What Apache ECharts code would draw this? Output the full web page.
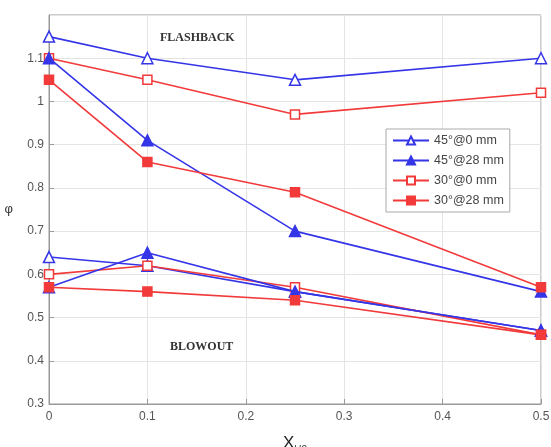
<!DOCTYPE html>
<html>
<head>
<meta charset="utf-8">
<script src="https://cdn.jsdelivr.net/npm/echarts@6/dist/echarts.min.js"></script>
<style>html,body{margin:0;padding:0;background:#fff}#main{width:551px;height:447px}</style>
</head>
<body>
<div id="main"></div>
<script>
// X_H2 positions and measured phi values (upper = flashback, lower = blowout)
var xH2 = [0, 0.1, 0.25, 0.5];
var names = ['45°@0 mm', '45°@28 mm', '30°@0 mm', '30°@28 mm'];
var upper45_0 = [1.15, 1.10, 1.05, 1.10];
var lower45_0 = [0.64, 0.62, 0.56, 0.47];
var upper45_28 = [1.10, 0.91, 0.70, 0.56];
var lower45_28 = [0.57, 0.65, 0.56, 0.47];
var upper30_0 = [1.10, 1.05, 0.97, 1.02];
var lower30_0 = [0.60, 0.62, 0.57, 0.46];
var upper30_28 = [1.05, 0.86, 0.79, 0.57];
var lower30_28 = [0.57, 0.56, 0.54, 0.46];

var blue = '#3535e8';
var red = '#f23a3a';

function pairs(vals) {
    return vals.map(function (v, i) { return [xH2[i], v]; });
}

function makeSeries(name, vals, color, symbol, filled) {
    return {
        name: name,
        type: 'line',
        data: pairs(vals),
        symbol: symbol,
        symbolSize: symbol === 'triangle' ? 11 : 9,
        lineStyle: { color: color, width: 1.6 },
        itemStyle: {
            color: filled ? color : '#fff',
            borderColor: color,
            borderWidth: 1.5
        },
        z: filled ? 3 : 2
    };
}

var myChart = echarts.init(document.getElementById('main'));

var option = {
    animation: false,
    textStyle: { fontFamily: 'Liberation Sans' },
    grid: {
        left: 49, right: 10, top: 15, bottom: 43,
        outerBoundsMode: 'none', containLabel: false,
        show: true, borderColor: '#999', borderWidth: 1
    },
    legend: {
        data: names,
        orient: 'vertical',
        left: 386,
        top: 129,
        itemWidth: 36,
        itemHeight: 10,
        itemGap: 7,
        padding: [5, 6, 5, 6],
        backgroundColor: '#fff',
        borderColor: '#aaa',
        borderWidth: 1,
        textStyle: { fontSize: 12.5, color: '#444' }
    },
    xAxis: {
        type: 'value',
        min: 0,
        max: 0.5,
        interval: 0.1,
        name: '{x|X}{s|H2}',
        nameLocation: 'middle',
        nameGap: 27,
        nameTextStyle: {
            rich: {
                x: { fontSize: 17, color: '#222' },
                s: { fontSize: 10, color: '#444', padding: [14, 0, 0, 0] }
            }
        },
        axisLine: { lineStyle: { color: '#999' } },
        axisTick: { inside: true, length: 5, lineStyle: { color: '#999' } },
        axisLabel: { color: '#555', fontSize: 12, margin: 7, formatter: function (v) { return String(Math.round(v * 10) / 10); } },
        splitLine: { show: true, lineStyle: { color: '#e4e4e4' } }
    },
    yAxis: {
        type: 'value',
        min: 0.3,
        max: 1.2,
        interval: 0.1,
        name: 'φ',
        nameLocation: 'middle',
        nameGap: 36,
        nameRotate: 0,
        nameTextStyle: { fontSize: 13, color: '#333' },
        axisLine: { show: true, lineStyle: { color: '#999' } },
        axisTick: { inside: true, length: 5, lineStyle: { color: '#999' } },
        axisLabel: {
            color: '#555', fontSize: 12, margin: 5, showMaxLabel: false,
            formatter: function (v) { return String(Math.round(v * 10) / 10); }
        },
        splitLine: { show: true, lineStyle: { color: '#e4e4e4' } }
    },
    graphic: [
        { type: 'text', x: 160, y: 38, z: 10, style: { text: 'FLASHBACK', font: 'bold 12px "Liberation Serif"', fill: '#333', verticalAlign: 'middle' } },
        { type: 'text', x: 170, y: 347, z: 10, style: { text: 'BLOWOUT', font: 'bold 12px "Liberation Serif"', fill: '#333', verticalAlign: 'middle' } }
    ],
    series: [
        makeSeries(names[0], upper45_0, blue, 'triangle', false),
        makeSeries(names[0], lower45_0, blue, 'triangle', false),
        makeSeries(names[1], upper45_28, blue, 'triangle', true),
        makeSeries(names[1], lower45_28, blue, 'triangle', true),
        makeSeries(names[2], upper30_0, red, 'rect', false),
        makeSeries(names[2], lower30_0, red, 'rect', false),
        makeSeries(names[3], upper30_28, red, 'rect', true),
        makeSeries(names[3], lower30_28, red, 'rect', true)
    ]
};

myChart.setOption(option);
</script>
</body>
</html>
